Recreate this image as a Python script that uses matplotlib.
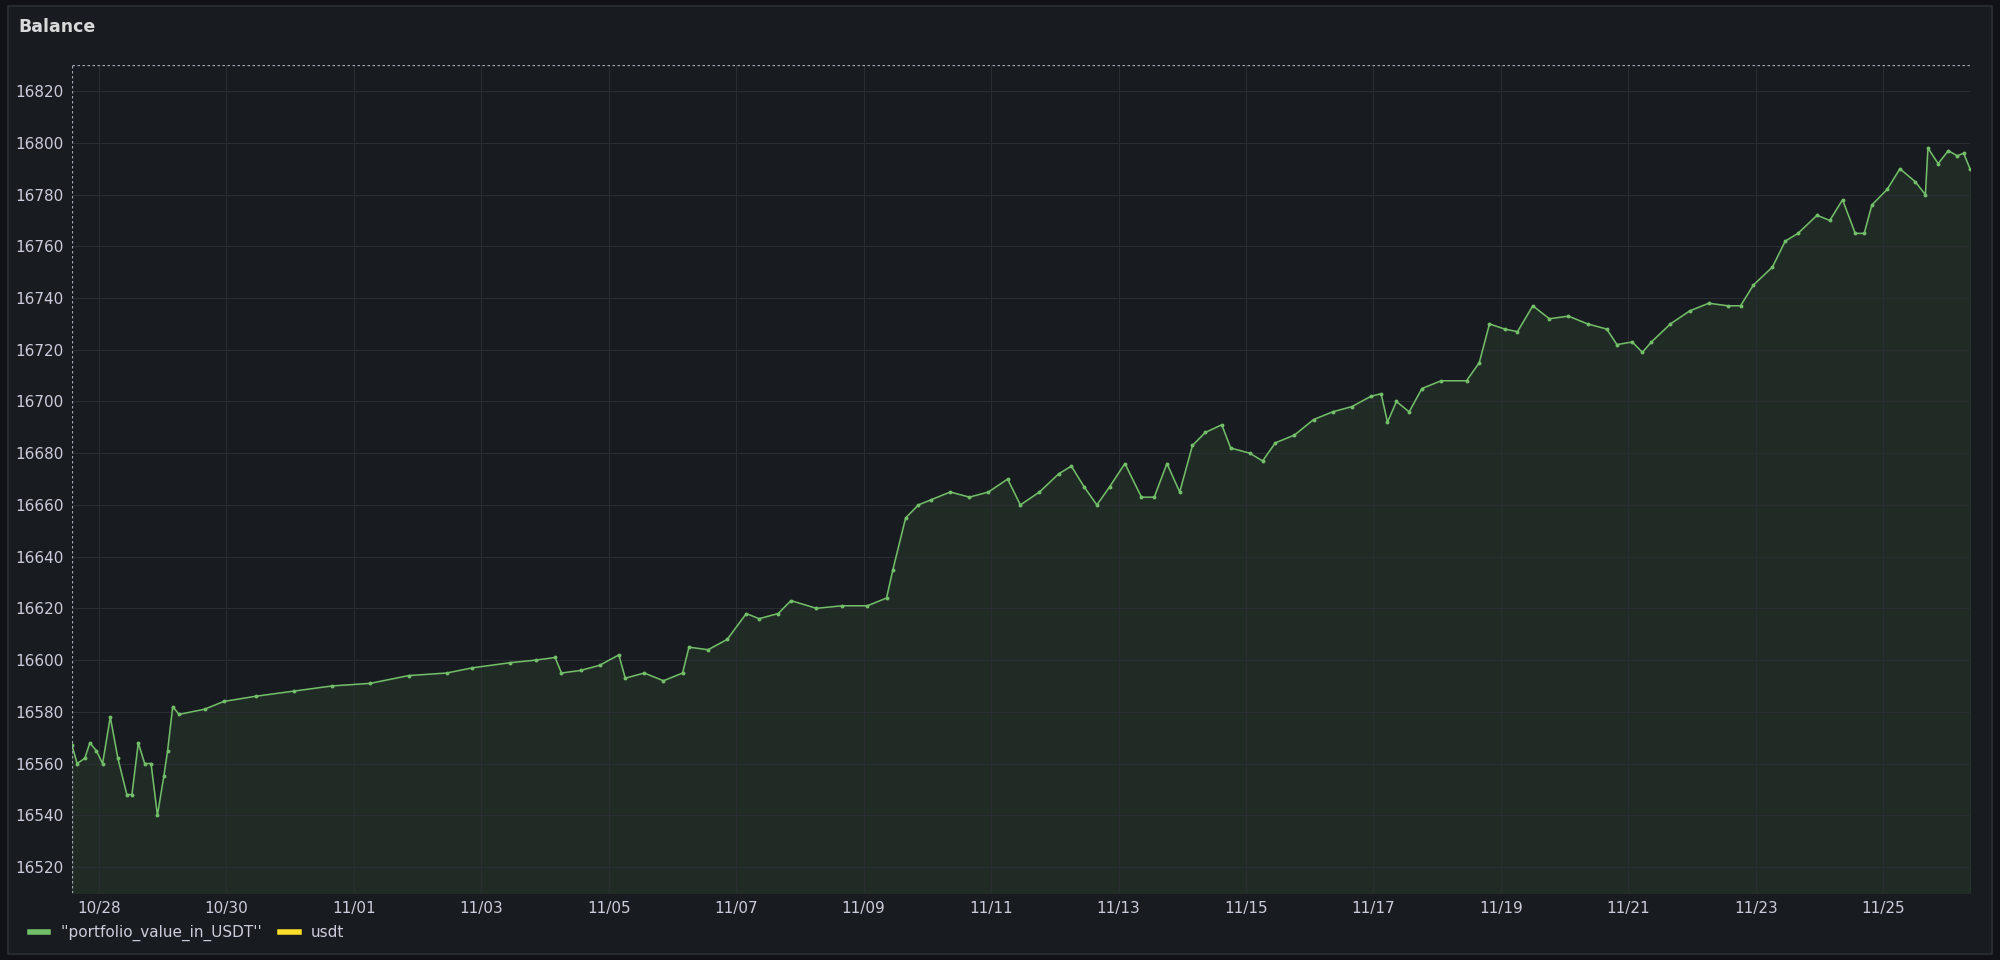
import matplotlib
matplotlib.use("Agg")
import matplotlib.pyplot as plt
from matplotlib.lines import Line2D
from datetime import datetime, timedelta

# day offsets from 10/28 00:00 and portfolio values
day_offsets = [-0.42,-0.34,-0.22,-0.14,-0.04,0.06,0.18,0.30,0.44,0.52,0.62,0.72,0.82,0.92,1.02,1.08,1.16,1.26,1.66,1.96,2.46,3.06,3.66,4.26,4.86,5.46,5.86,6.46,6.86,7.16,7.26,7.56,7.86,8.16,8.26,8.56,8.86,9.16,9.26,9.56,9.86,10.16,10.36,10.66,10.86,11.26,11.66,12.06,12.36,12.46,12.66,12.86,13.06,13.36,13.66,13.96,14.26,14.46,14.76,15.06,15.26,15.46,15.66,15.86,16.10,16.36,16.56,16.76,16.96,17.16,17.36,17.62,17.76,18.06,18.26,18.46,18.76,19.06,19.36,19.66,19.96,20.12,20.22,20.36,20.56,20.76,21.06,21.46,21.66,21.82,22.06,22.26,22.50,22.76,23.06,23.36,23.66,23.82,24.06,24.22,24.36,24.66,24.96,25.26,25.56,25.76,25.96,26.26,26.46,26.66,26.96,27.16,27.36,27.56,27.70,27.82,28.06,28.26,28.50,28.66,28.70,28.86,29.02,29.16,29.26,29.36]
values = [16567,16560,16562,16568,16565,16560,16578,16562,16548,16548,16568,16560,16560,16540,16555,16565,16582,16579,16581,16584,16586,16588,16590,16591,16594,16595,16597,16599,16600,16601,16595,16596,16598,16602,16593,16595,16592,16595,16605,16604,16608,16618,16616,16618,16623,16620,16621,16621,16624,16635,16655,16660,16662,16665,16663,16665,16670,16660,16665,16672,16675,16667,16660,16667,16676,16663,16663,16676,16665,16683,16688,16691,16682,16680,16677,16684,16687,16693,16696,16698,16702,16703,16692,16700,16696,16705,16708,16708,16715,16730,16728,16727,16737,16732,16733,16730,16728,16722,16723,16719,16723,16730,16735,16738,16737,16737,16745,16752,16762,16765,16772,16770,16778,16765,16765,16776,16782,16790,16785,16780,16798,16792,16797,16795,16796,16790]

legend_labels = ["''portfolio_value_in_USDT''", "usdt"]
yticks = list(range(16520, 16821, 20))
xtick_days = ["10/28","10/30","11/01","11/03","11/05","11/07","11/09","11/11","11/13","11/15","11/17","11/19","11/21","11/23","11/25"]

base = datetime(2023, 10, 28)
times = [base + timedelta(days=d) for d in day_offsets]

BG = "#181b1f"
fig = plt.figure(figsize=(20, 9.6), dpi=100, facecolor="#111217")
panel = plt.Rectangle((0.004, 0.006), 0.992, 0.988, transform=fig.transFigure,
                      facecolor=BG, edgecolor="#2c3036", lw=1.2, zorder=-1)
fig.patches.append(panel)
fig.text(0.009, 0.972, "Balance", color="#d8d9da", fontsize=12.5, fontweight="semibold", va="center")

ax = fig.add_axes([0.036, 0.07, 0.949, 0.862])
ax.set_facecolor(BG)
green = "#73bf69"
ax.plot(times, values, color=green, lw=1.1, marker="o", ms=1.8)
ax.fill_between(times, values, 16500, color=green, alpha=0.1)
ax.set_ylim(16510, 16830)
ax.set_xlim(base + timedelta(days=-0.42), base + timedelta(days=29.36))
ax.set_yticks(yticks)
tick_times = [base + timedelta(days=2 * i) for i in range(len(xtick_days))]
ax.set_xticks(tick_times)
ax.set_xticklabels(xtick_days)
ax.grid(color="#2a2e33", lw=0.8)
for s in ax.spines.values():
    s.set_visible(False)
ax.axhline(16830, color="#9fa7b3", ls=(0, (2, 2)), lw=0.9)
ax.axvline(times[0], color="#9fa7b3", ls=(0, (2, 2)), lw=0.9)
ax.tick_params(colors="#ccccdc", labelsize=11, length=0, pad=6)

handles = [Line2D([], [], color=green, lw=4), Line2D([], [], color="#fade2a", lw=4)]
fig.legend(handles, legend_labels, loc="lower left", bbox_to_anchor=(0.008, 0.005), ncol=2,
           frameon=False, labelcolor="#ccccdc", fontsize=11, handlelength=1.2, columnspacing=1.2)
fig.savefig("out.png", facecolor=fig.get_facecolor())
